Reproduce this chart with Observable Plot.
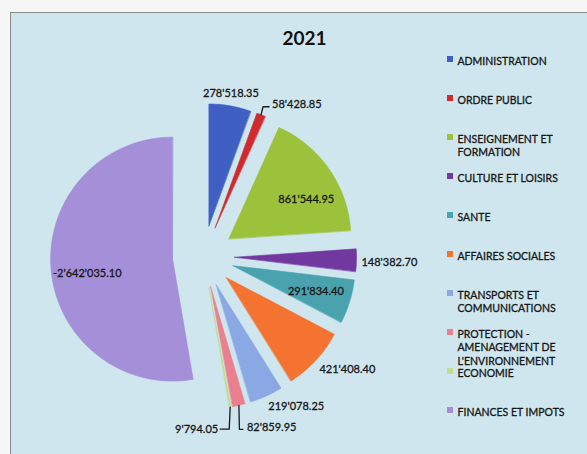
<!DOCTYPE html>
<html><head><meta charset="utf-8">
<script src="https://cdn.jsdelivr.net/npm/d3@7"></script>
<script src="https://cdn.jsdelivr.net/npm/@observablehq/plot@0.6"></script>
<style>
html,body{margin:0;padding:0;background:#f6f6f6;}
#wrap{position:relative;width:587px;height:454px;overflow:hidden;}
#panel{position:absolute;left:10px;top:12px;width:600px;height:460px;background:#cfe6ef;border-left:1px solid #8c8c8c;border-top:1px solid #8c8c8c;}
#chart{position:absolute;left:0;top:0;}
</style></head><body>
<div id="wrap"><div id="panel"></div><div id="chart"></div></div>
<script>
// ---- data ----
const title = "2021";
const categories = [
  "ADMINISTRATION",
  "ORDRE PUBLIC",
  "ENSEIGNEMENT ET\nFORMATION",
  "CULTURE ET LOISIRS",
  "SANTE",
  "AFFAIRES SOCIALES",
  "TRANSPORTS ET\nCOMMUNICATIONS",
  "PROTECTION -\nAMENAGEMENT DE\nL'ENVIRONNEMENT",
  "ECONOMIE",
  "FINANCES ET IMPOTS"
];
const values = [278518.35, 58428.85, 861544.95, 148382.70, 291834.40, 421408.40, 219078.25, 82859.95, 9794.05, -2642035.10];
const colors = ["#3f5fc2", "#d02a2e", "#9cc13b", "#7139a0", "#4aa2ae", "#f47330", "#89a8e4", "#ea7f8d", "#c0dd8c", "#a48fd8"];

// ---- layout / style ----
const W = 587, H = 454;
const C = [203, 256], R = 122, EXPL = 31;
const labelMode = ["out", "leaderNE", "in", "out", "in", "out", "out", "leaderS", "leaderSW", "in"];
const inShift = [0, 0, 8, 0, 0, 0, 0, 0, 0, -5];
const fmt = d3.formatLocale({decimal: ".", thousands: "'", grouping: [3], currency: ["", ""], minus: "-"}).format(",.2f");

const rows = categories.map((c, i) => ({key: c, value: values[i], i}));
const arcs = d3.pie().sort(null).value(d => Math.abs(d.value))(rows);
const dir = a => [Math.sin(a), -Math.cos(a)];

const slicePts = [];
const labels = [];
const leaders = [];
arcs.forEach(a => {
  const key = a.data.key, i = a.data.i;
  const m = (a.startAngle + a.endAngle) / 2;
  const [ux, uy] = dir(m);
  const ax = C[0] + EXPL * ux, ay = C[1] + EXPL * uy;
  slicePts.push({key, x: ax, y: ay});
  const n = Math.max(2, Math.ceil((a.endAngle - a.startAngle) / 0.02));
  for (let k = 0; k <= n; k++) {
    const t = a.startAngle + (a.endAngle - a.startAngle) * k / n;
    const [vx, vy] = dir(t);
    slicePts.push({key, x: ax + R * vx, y: ay + R * vy});
  }
  const text = fmt(a.data.value);
  const P = [ax + R * ux, ay + R * uy];
  const mode = labelMode[i];
  if (mode === "in") {
    const [wx, wy] = dir(m + inShift[i] * Math.PI / 180);
    labels.push({x: ax + 0.71 * R * wx, y: ay + 0.71 * R * wy, text, anchor: "middle"});
  } else if (mode === "out") {
    const g = 5;
    const qx = ax + (R + g) * ux, qy = ay + (R + g) * uy;
    const anchor = ux > 0.3 ? "start" : ux < -0.3 ? "end" : "middle";
    const yy = uy < -0.3 ? qy - 7 : uy > 0.3 ? qy + 6 : qy + 2;
    labels.push({x: qx, y: yy, text, anchor});
  } else if (mode === "leaderNE") {
    leaders.push({k: i, x: P[0], y: P[1]}, {k: i, x: P[0] + 2, y: P[1] - 8}, {k: i, x: P[0] + 8, y: P[1] - 8});
    labels.push({x: P[0] + 11, y: P[1] - 10, text, anchor: "start"});
  } else if (mode === "leaderS") {
    leaders.push({k: i, x: P[0], y: P[1]}, {k: i, x: P[0] + 0.5, y: P[1] + 24}, {k: i, x: P[0] + 4, y: P[1] + 24});
    labels.push({x: P[0] + 8, y: P[1] + 22, text, anchor: "start"});
  } else if (mode === "leaderSW") {
    leaders.push({k: i, x: P[0], y: P[1]}, {k: i, x: P[0] - 1, y: P[1] + 22}, {k: i, x: P[0] - 10, y: P[1] + 22});
    labels.push({x: P[0] - 12, y: P[1] + 22, text, anchor: "end"});
  }
});

const legend = categories.map((c, i) => ({key: c, y: 59 + 39 * i}));

const txt = {fontSize: 11, fill: "#161616", stroke: "#161616", strokeWidth: 0.3, lineAnchor: "middle"};
const chart = Plot.plot({
  width: W, height: H, margin: 0,
  x: {domain: [0, W], range: [0, W], axis: null},
  y: {domain: [0, H], range: [0, H], axis: null},
  color: {domain: categories, range: colors},
  style: {background: "transparent", fontFamily: "Lato, sans-serif"},
  marks: [
    Plot.line(slicePts, {x: "x", y: "y", z: "key", fill: "key", stroke: "key", strokeWidth: 0.6, curve: "linear-closed"}),
    Plot.line(leaders, {x: "x", y: "y", z: "k", stroke: "#1b1b1b", strokeWidth: 1.3}),
    Plot.text(labels.filter(d => d.anchor === "start"), {x: "x", y: "y", text: "text", textAnchor: "start", ...txt}),
    Plot.text(labels.filter(d => d.anchor === "end"), {x: "x", y: "y", text: "text", textAnchor: "end", ...txt}),
    Plot.text(labels.filter(d => d.anchor === "middle"), {x: "x", y: "y", text: "text", textAnchor: "middle", ...txt}),
    Plot.text([title], {x: 304, y: 38, text: d => d, fontSize: 19, fontWeight: "bold", fill: "#111", lineAnchor: "middle"}),
    Plot.rect(legend, {x1: 447, x2: 453, y1: d => d.y - 3, y2: d => d.y + 3, fill: "key"}),
    Plot.text(legend, {x: 457, y: "y", text: "key", textAnchor: "start", lineAnchor: "top", dy: -4.5, fontSize: 10.5, lineHeight: 1.3, fill: "#161616", stroke: "#161616", strokeWidth: 0.3})
  ]
});
document.getElementById("chart").appendChild(chart);
</script>
</body></html>
